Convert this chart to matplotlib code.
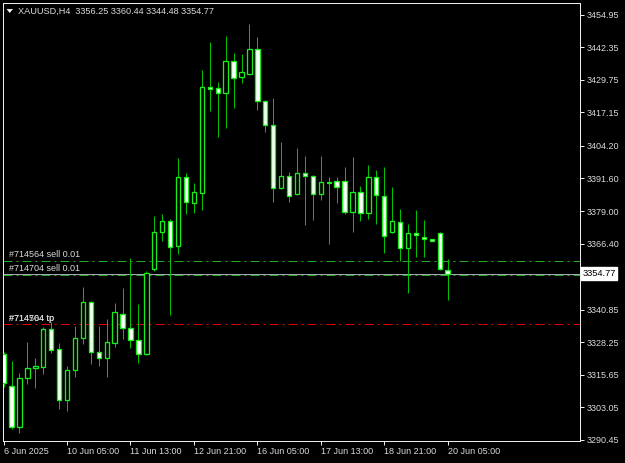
import matplotlib
matplotlib.use("Agg")
import matplotlib.pyplot as plt
from matplotlib.patches import Polygon
from matplotlib.transforms import blended_transform_factory

# ---- data (XAUUSD H4) ----
opens = [3323.82, 3311.40, 3295.49, 3314.51, 3318.39, 3318.78, 3333.52, 3325.76, 3305.97, 3317.61,
         3330.03, 3343.61, 3324.60, 3322.27, 3328.09, 3339.34, 3333.91, 3329.26, 3323.82, 3356.42,
         3370.78, 3375.04, 3365.34, 3392.12, 3382.03, 3385.91, 3427.04, 3426.66, 3424.72, 3437.13,
         3430.92, 3432.09, 3441.79, 3421.61, 3412.30, 3387.85, 3392.51, 3385.52, 3393.67, 3392.51,
         3385.52, 3389.79, 3390.57, 3390.57, 3378.54, 3386.30, 3378.15, 3392.12, 3384.75, 3370.78,
         3374.66, 3364.57, 3370.39, 3368.84, 3368.06, 3370.39, 3356.25]
highs = [3324.60, 3321.11, 3316.45, 3328.48, 3322.27, 3334.30, 3336.24, 3328.09, 3319.17, 3334.69,
         3349.43, 3344.00, 3334.69, 3337.40, 3343.22, 3349.05, 3360.69, 3342.84, 3355.64, 3376.99,
         3377.76, 3375.82, 3399.50, 3393.67, 3389.79, 3433.64, 3444.51, 3428.98, 3446.83, 3440.24,
         3439.85, 3451.49, 3446.45, 3422.00, 3422.78, 3405.70, 3394.06, 3403.37, 3400.27, 3392.90,
         3400.27, 3392.12, 3392.12, 3396.00, 3399.88, 3388.63, 3396.78, 3394.84, 3396.00, 3388.24,
         3379.70, 3373.88, 3379.31, 3375.43, 3368.10, 3370.78, 3360.44]
lows = [3311.02, 3294.72, 3293.17, 3312.18, 3310.63, 3316.06, 3324.21, 3302.48, 3301.70, 3314.90,
        3327.70, 3319.94, 3319.17, 3314.90, 3326.54, 3329.64, 3326.15, 3320.33, 3323.43, 3355.64,
        3367.28, 3338.57, 3362.24, 3377.76, 3378.15, 3379.31, 3417.73, 3407.64, 3411.13, 3418.89,
        3428.60, 3431.70, 3418.12, 3409.58, 3382.42, 3387.46, 3382.42, 3385.13, 3373.49, 3375.43,
        3383.19, 3366.12, 3382.03, 3377.76, 3370.78, 3375.04, 3375.82, 3373.88, 3362.63, 3370.39,
        3359.52, 3347.11, 3361.08, 3361.08, 3367.28, 3356.00, 3344.48]
closes = [3312.57, 3295.49, 3314.51, 3318.39, 3319.17, 3333.52, 3325.37, 3305.97, 3317.61, 3330.03,
          3343.61, 3324.60, 3322.27, 3328.48, 3339.73, 3333.91, 3329.26, 3323.82, 3354.87, 3370.78,
          3375.04, 3364.96, 3392.12, 3382.42, 3386.30, 3427.04, 3426.27, 3424.72, 3437.13, 3430.54,
          3432.86, 3441.79, 3421.61, 3412.30, 3387.85, 3392.51, 3384.75, 3393.67, 3392.51, 3385.52,
          3390.18, 3390.18, 3388.24, 3378.54, 3386.30, 3378.15, 3392.12, 3385.13, 3369.22, 3375.04,
          3364.57, 3370.39, 3369.61, 3368.06, 3367.28, 3356.42, 3354.77]

time_tick_idx = [0, 8, 16, 24, 32, 40, 48, 56]
time_labels = ["6 Jun 2025", "10 Jun 05:00", "11 Jun 13:00", "12 Jun 21:00",
               "16 Jun 05:00", "17 Jun 13:00", "18 Jun 21:00", "20 Jun 05:00"]
price_ticks = [3454.95, 3442.35, 3429.75, 3417.15, 3404.20, 3391.60, 3379.00, 3366.40,
               3340.85, 3328.25, 3315.65, 3303.05, 3290.45]
bid = 3354.77
order_lines = [("#714564 sell 0.01", 3359.6), ("#714704 sell 0.01", 3354.4)]
tp_line = 3335.2
tp_labels = ["#714564 tp", "#714704 tp"]
title = "XAUUSD,H4  3356.25 3360.44 3344.48 3354.77"

# ---- style ----
W, H = 625, 463
FONT = "Liberation Sans"
FS = 6.5
TXT = "#dadada"
FG = "#ececec"
WICK = "#00c000"
EDGE = "#18ee18"
PX = 0.72  # one pixel in points at dpi 100

plt.rcParams["font.family"] = [FONT, "DejaVu Sans"]
fig = plt.figure(figsize=(W / 100, H / 100), dpi=100, facecolor="black")
ax = fig.add_axes([3 / W, (H - 441) / H, (580 - 3) / W, (441 - 3) / H], facecolor="black")

n = len(opens)
xs = list(range(n))
ax.vlines(xs, lows, highs, colors=WICK, linewidth=PX, zorder=3)
for i in xs:
    o, c = opens[i], closes[i]
    bottom = min(o, c)
    height = max(abs(c - o), 0.15)
    fc = "black" if c >= o else "white"
    ax.bar(i, height, bottom=bottom, width=0.55, facecolor=fc, edgecolor=EDGE,
           linewidth=1.3 * PX, zorder=4)

# order lines
dashdot = (0, (9, 4, 2, 4))
ax.axhline(bid, color="#a0a8b0", linewidth=PX, zorder=2)
for lab, p in order_lines:
    ax.axhline(p, color="#22aa22", linewidth=PX, linestyle=dashdot, zorder=2)
    ax.annotate(lab, xy=(0.68, p), xytext=(0, 1.2), textcoords="offset points",
                ha="left", va="bottom", color=TXT, fontsize=FS, zorder=6)
ax.axhline(tp_line, color="#e00000", linewidth=PX, linestyle=dashdot, zorder=2)
for lab in tp_labels:
    ax.annotate(lab, xy=(0.68, tp_line), xytext=(0, 1.2), textcoords="offset points",
                ha="left", va="bottom", color=TXT, fontsize=FS, zorder=6)

# axes limits
ax.set_xlim(-0.08, 72.69)
ax.set_ylim(3290.0, 3459.5)

# y axis on the right
ax.yaxis.tick_right()
ax.set_yticks(price_ticks)
ax.set_yticklabels([f"{p:.2f}" for p in price_ticks])
ax.tick_params(axis="y", colors=FG, labelcolor=TXT, labelsize=FS, length=3,
               width=PX, direction="out", pad=1.5)
ax.set_xticks(time_tick_idx)
ax.set_xticklabels(time_labels)
ax.tick_params(axis="x", colors=FG, labelcolor=TXT, labelsize=FS, length=3,
               width=PX, direction="out", pad=1.5)
for t in ax.get_xticklabels():
    t.set_ha("left")

for s in ax.spines.values():
    s.set_color(FG)
    s.set_linewidth(PX)

# current price label
tr = blended_transform_factory(ax.transAxes, ax.transData)
ax.text(1.004, bid, f"{bid:.2f}", transform=tr, ha="left", va="center", color="black",
        fontsize=FS + 0.2, zorder=10, clip_on=False,
        bbox=dict(boxstyle="square,pad=0.18", facecolor="white", edgecolor="white"))

# title with triangle
fig.text(18 / W, 1 - 11 / H, title, ha="left", va="center", color=TXT, fontsize=FS + 0.1)
tri = Polygon([(7 / W, 1 - 9.2 / H), (12.5 / W, 1 - 9.2 / H), (9.75 / W, 1 - 12.6 / H)],
              closed=True, transform=fig.transFigure, facecolor="white", edgecolor="white",
              linewidth=0.3)
fig.add_artist(tri)

fig.savefig("out.png", dpi=100, facecolor="black")
